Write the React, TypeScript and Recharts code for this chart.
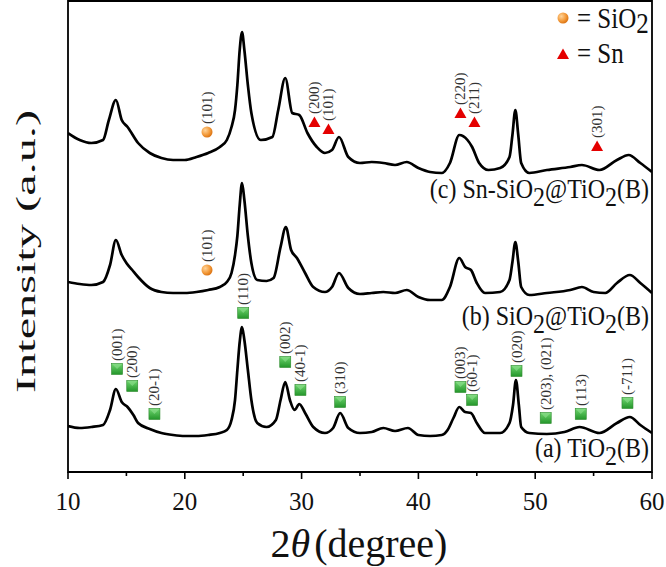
import React from 'react';
import { ComposedChart, Line, Scatter, XAxis, YAxis, ReferenceArea } from 'recharts';

// ---- (a) TiO2(B) ----
const anglesA = [10, 11, 12, 13, 13.6, 14.1, 14.6, 15.1, 15.6, 16, 17, 18, 19, 20, 21, 22, 23, 23.6, 24.0, 24.3, 24.5, 24.7, 24.9, 25.1, 25.4, 25.7, 26.2, 27, 27.8, 28.2, 28.6, 29.0, 29.4, 29.8, 30.3, 31, 32, 32.7, 33.3, 34, 35, 36, 37, 38, 39.1, 40, 41, 42, 42.5, 43, 43.5, 44, 44.5, 45, 45.7, 47, 47.8, 48.1, 48.35, 48.6, 48.8, 49.5, 51, 52.5, 53.8, 55.5, 57, 58.1, 59, 60];
const intensityA = [46, 44, 45, 47, 62, 83, 70, 65, 57, 49, 43, 39, 37, 36, 36, 37, 39, 42, 52, 72, 102, 130, 145, 132, 102, 72, 49, 45, 52, 72, 90, 72, 62, 68, 59, 45, 39, 44, 59, 44, 39, 40, 44, 41, 44, 37, 36, 37, 42, 54, 65, 60, 59, 49, 39, 39, 49, 67, 92, 67, 45, 39, 38, 40, 45, 39, 49, 55, 47, 39];

// ---- (b) SiO2@TiO2(B) ----
const anglesB = [10, 11, 12, 13, 13.6, 14.1, 14.6, 15.0, 15.5, 16, 17, 18, 19, 20, 21, 22, 23, 23.6, 24.0, 24.3, 24.5, 24.7, 24.9, 25.1, 25.4, 25.7, 26.2, 27, 27.6, 28.2, 28.65, 29.1, 29.6, 30.3, 31, 32, 32.6, 33.2, 34, 35, 36, 37, 38, 39, 40, 41, 42, 42.7, 43.5, 44, 44.5, 45, 45.7, 47, 47.8, 48.05, 48.3, 48.55, 48.8, 49.5, 51, 53, 54, 55, 56, 57, 58.1, 59, 60];
const intensityB = [190, 188, 187, 190, 207, 232, 217, 209, 202, 195, 184, 180, 179, 179, 180, 182, 185, 190, 199, 217, 236, 267, 289, 272, 236, 209, 192, 191, 194, 225, 245, 222, 214, 199, 185, 180, 185, 199, 184, 178, 179, 180, 179, 182, 175, 172, 172, 185, 214, 205, 202, 189, 179, 180, 192, 210, 230, 210, 185, 177, 179, 182, 185, 180, 179, 189, 197, 189, 179];

// ---- (c) Sn-SiO2@TiO2(B) ----
const anglesC = [10, 11, 12, 13, 13.5, 14.1, 14.6, 15.1, 16, 17, 18, 19, 20, 21, 22, 23, 23.6, 24, 24.3, 24.5, 24.7, 24.9, 25.1, 25.4, 25.7, 26.5, 27.5, 28, 28.6, 29.2, 29.8, 30.5, 31.3, 32, 32.6, 33.2, 34, 35, 36, 37, 38, 39, 40, 41, 42, 42.7, 43.5, 44.2, 44.6, 45.2, 46, 47, 47.8, 48.05, 48.3, 48.55, 48.8, 49.5, 51, 53, 54, 55.5, 57, 58, 59, 60];
const intensityC = [339, 332, 329, 332, 352, 372, 352, 345, 329, 319, 314, 312, 312, 315, 319, 325, 332, 345, 362, 387, 422, 440, 422, 387, 359, 332, 335, 362, 394, 359, 357, 339, 325, 319, 322, 335, 315, 309, 310, 309, 307, 310, 304, 300, 299, 309, 337, 332, 325, 309, 302, 304, 315, 337, 362, 337, 309, 299, 302, 305, 307, 302, 312, 317, 309, 300];

// ---- peak markers ----
const sio2Angles = [21.9, 21.9];
const sio2Heights = [340, 202];
const sio2Labels = ['(101)', '(101)'];

const snAngles = [31.1, 32.3, 43.6, 44.8, 55.3];
const snHeights = [350, 343, 359, 350, 326];
const snLabels = ['(200)', '(101)', '(220)', '(211)', '(301)'];

const tiAngles = [14.2, 15.5, 17.4, 25.0, 28.6, 29.9, 33.3, 43.6, 44.6, 48.4, 50.9, 53.9, 57.9];
const tiHeights = [103, 86, 58, 159, 110, 82, 70, 85, 72, 101, 54, 58, 69];
const tiLabels = ['(001)', '(200)', '(20-1)', '(110)', '(002)', '(40-1)', '(310)', '(003)', '(60-1)', '(020)', '(203), (021)', '(113)', '(-711)'];

const xTicks = [10, 15, 20, 25, 30, 35, 40, 45, 50, 55, 60];

const toPoints = (xs: number[], ys: number[]) => xs.map((x, i) => ({ x, y: ys[i] }));
const toMarks = (xs: number[], ys: number[], ls: string[]) => xs.map((x, i) => ({ x, y: ys[i], label: ls[i] }));

const dataA = toPoints(anglesA, intensityA);
const dataB = toPoints(anglesB, intensityB);
const dataC = toPoints(anglesC, intensityC);
const marksSiO2 = toMarks(sio2Angles, sio2Heights, sio2Labels);
const marksSn = toMarks(snAngles, snHeights, snLabels);
const marksTi = toMarks(tiAngles, tiHeights, tiLabels);

const SERIF = '"Liberation Serif", "Times New Roman", serif';

const XTick = (props: any) => {
  const { x, y, payload } = props;
  const v = payload.value;
  const major = v % 10 === 0;
  return (
    <g>
      <line x1={x} x2={x} y1={y} y2={y + (major ? 7 : 4)} stroke="#000" strokeWidth={1.6} />
      {major && (
        <text x={x} y={y + 38} textAnchor="middle" fontFamily={SERIF} fontSize={25} fill="#111">
          {v}
        </text>
      )}
    </g>
  );
};

const peakLabel = (cx: number, cy: number, label: string) => (
  <text
    transform={`translate(${cx + 5},${cy - 8}) rotate(-90)`}
    fontFamily={SERIF}
    fontSize={15}
    fill="#333"
  >
    {label}
  </text>
);

const circleShape = (props: any) => {
  const { cx, cy, payload } = props;
  return (
    <g>
      <circle cx={cx} cy={cy} r={5.5} fill="url(#orangeGrad)" />
      {peakLabel(cx, cy, payload.label)}
    </g>
  );
};

const triangleShape = (props: any) => {
  const { cx, cy, payload } = props;
  return (
    <g>
      <path d={`M${cx},${cy - 5.5} L${cx + 6},${cy + 5} L${cx - 6},${cy + 5} Z`} fill="#e40000" />
      {peakLabel(cx, cy, payload.label)}
    </g>
  );
};

const squareShape = (props: any) => {
  const { cx, cy, payload } = props;
  return (
    <g>
      <rect x={cx - 5.5} y={cy - 5.5} width={11} height={11} fill="url(#greenGrad)" stroke="#2d8a2d" strokeWidth={0.6} />
      <path d={`M${cx - 5},${cy - 5} L${cx},${cy} L${cx + 5},${cy - 5} Z`} fill="#8fe08f" opacity={0.6} />
      {peakLabel(cx, cy, payload.label)}
    </g>
  );
};

const W = 666;
const H = 567;

export default function App() {
  return (
    <div style={{ position: 'absolute', left: 0, top: 0, width: W, height: H, background: '#fff' }}>
      <ComposedChart width={W} height={H} margin={{ top: 1, right: 14, left: 68, bottom: 0 }}>
        <XAxis
          dataKey="x"
          type="number"
          domain={[10, 60]}
          ticks={xTicks}
          interval={0}
          height={95}
          tickSize={0}
          tickMargin={0}
          tickLine={false}
          tick={<XTick />}
          axisLine={{ stroke: '#000', strokeWidth: 2 }}
          allowDataOverflow
        />
        <YAxis dataKey="y" type="number" domain={[0, 471]} hide width={0} allowDataOverflow />
        <ReferenceArea x1={10} x2={60} y1={0} y2={471} fill="none" stroke="#000" strokeWidth={1.8} ifOverflow="visible" />
        <Line data={dataA} dataKey="y" type="monotone" stroke="#000" strokeWidth={2.7} dot={false} isAnimationActive={false} />
        <Line data={dataB} dataKey="y" type="monotone" stroke="#000" strokeWidth={2.7} dot={false} isAnimationActive={false} />
        <Line data={dataC} dataKey="y" type="monotone" stroke="#000" strokeWidth={2.7} dot={false} isAnimationActive={false} />
        <Scatter data={marksSiO2} dataKey="y" shape={circleShape} isAnimationActive={false} />
        <Scatter data={marksSn} dataKey="y" shape={triangleShape} isAnimationActive={false} />
        <Scatter data={marksTi} dataKey="y" shape={squareShape} isAnimationActive={false} />
      </ComposedChart>
      <svg width={W} height={H} style={{ position: 'absolute', left: 0, top: 0, pointerEvents: 'none' }}>
        <defs>
          <radialGradient id="orangeGrad" cx="35%" cy="35%" r="70%">
            <stop offset="0%" stopColor="#ffd49a" />
            <stop offset="60%" stopColor="#f39a3a" />
            <stop offset="100%" stopColor="#d9700f" />
          </radialGradient>
          <linearGradient id="greenGrad" x1="0" y1="0" x2="0" y2="1">
            <stop offset="0%" stopColor="#6fd66f" />
            <stop offset="100%" stopColor="#23952a" />
          </linearGradient>
        </defs>
        {/* legend */}
        <circle cx={563} cy={18} r={5.5} fill="url(#orangeGrad)" />
        <g transform="translate(577,28) scale(1,1.2)">
          <text x={0} y={0} fontFamily={SERIF} fontSize={25} fill="#111">
            = SiO<tspan dy={4}>2</tspan>
          </text>
        </g>
        <path d="M563,48.5 L569,59 L557,59 Z" fill="#e40000" />
        <g transform="translate(577,63) scale(1,1.2)">
          <text x={0} y={0} fontFamily={SERIF} fontSize={25} fill="#111">
            = Sn
          </text>
        </g>
        {/* series names */}
        <g transform="translate(649,198) scale(1,1.15)">
          <text x={0} y={0} textAnchor="end" fontFamily={SERIF} fontSize={24} fill="#111">
            (c) Sn-SiO<tspan dy={7}>2</tspan><tspan dy={-7}>@TiO</tspan><tspan dy={7}>2</tspan><tspan dy={-7}>(B)</tspan>
          </text>
        </g>
        <g transform="translate(649,325) scale(1,1.15)">
          <text x={0} y={0} textAnchor="end" fontFamily={SERIF} fontSize={24} fill="#111">
            (b) SiO<tspan dy={7}>2</tspan><tspan dy={-7}>@TiO</tspan><tspan dy={7}>2</tspan><tspan dy={-7}>(B)</tspan>
          </text>
        </g>
        <g transform="translate(649,457) scale(1,1.15)">
          <text x={0} y={0} textAnchor="end" fontFamily={SERIF} fontSize={24} fill="#111">
            (a) TiO<tspan dy={7}>2</tspan><tspan dy={-7}>(B)</tspan>
          </text>
        </g>
        {/* axis titles */}
        <text
          transform="translate(35,251.5) rotate(-90)"
          textAnchor="middle"
          fontFamily={SERIF}
          fontSize={28}
          fill="#111"
          textLength={283}
          lengthAdjust="spacingAndGlyphs"
        >
          Intensity (a.u.)
        </text>
        <text x={359} y={557} textAnchor="middle" fontFamily={SERIF} fontSize={40} fill="#111">
          2<tspan fontStyle="italic">θ</tspan><tspan dx={4}>(degree)</tspan>
        </text>
      </svg>
    </div>
  );
}
